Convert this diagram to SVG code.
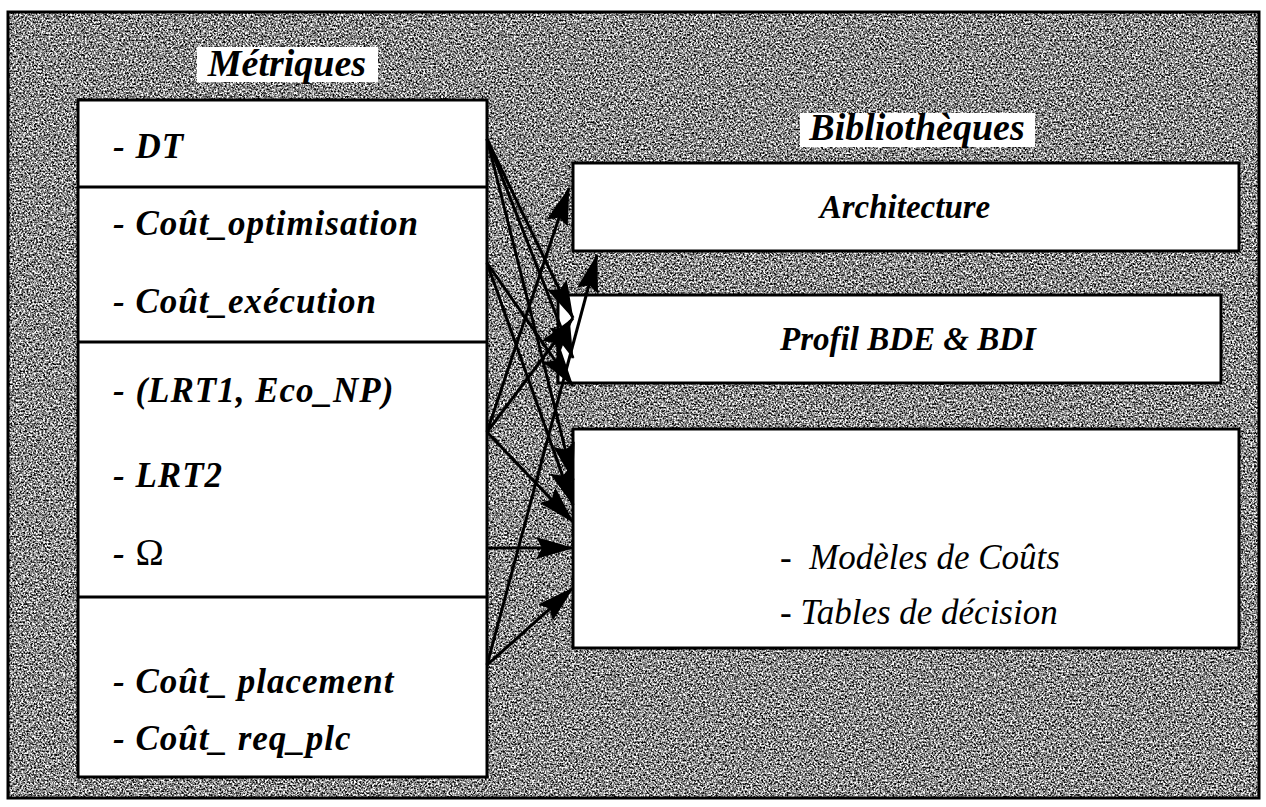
<svg xmlns="http://www.w3.org/2000/svg" width="1266" height="807" viewBox="0 0 1266 807">
  <defs>
    <style>
      .panel { fill: #8e8e8e; }
      .frame { fill: none; stroke: #000; stroke-width: 3; }
      .box { fill: #fff; stroke: #000; stroke-width: 3; }
      .tag { fill: #fff; stroke: none; }
      .div { stroke: #000; stroke-width: 3; }
      .item { font-family: "Liberation Serif", "Times New Roman", serif; font-style: italic; font-weight: bold; font-size: 35px; letter-spacing: 1px; fill: #000; }
      .title { font-family: "Liberation Serif", "Times New Roman", serif; font-style: italic; font-weight: bold; font-size: 38px; fill: #000; }
      .lib { font-family: "Liberation Serif", "Times New Roman", serif; font-style: italic; font-weight: bold; font-size: 33px; fill: #000; }
      .cost { font-family: "Liberation Serif", "Times New Roman", serif; font-style: italic; font-size: 35px; fill: #000; }
      .sym { font-family: "Liberation Serif", "Times New Roman", serif; font-style: normal; font-weight: normal; font-size: 38px; }
      .link { stroke: #000; stroke-width: 3; fill: none; marker-end: url(#head); }
    </style>
    <!-- halftone-like grain for the grey panel -->
    <filter id="grain" x="0" y="0" width="100%" height="100%" color-interpolation-filters="sRGB">
      <feTurbulence type="fractalNoise" baseFrequency="0.55" numOctaves="2" seed="7" result="noise"/>
      <feColorMatrix in="noise" type="matrix" values="1 0 0 0 0  1 0 0 0 0  1 0 0 0 0  0 0 0 0 1" result="grey"/>
      <feComponentTransfer in="grey">
        <feFuncR type="linear" slope="2.4" intercept="-0.66"/>
        <feFuncG type="linear" slope="2.4" intercept="-0.66"/>
        <feFuncB type="linear" slope="2.4" intercept="-0.66"/>
      </feComponentTransfer>
    </filter>
    <marker id="head" viewBox="0 0 38 22" refX="37" refY="11" markerWidth="38" markerHeight="22" markerUnits="userSpaceOnUse" orient="auto">
      <path d="M0,0 L38,11 L0,22 L6,11 Z" fill="#000"/>
    </marker>
  </defs>

  <!-- outer panel -->
  <rect class="panel" x="8" y="12" width="1251" height="786" filter="url(#grain)"/>
  <rect class="frame" x="8" y="12" width="1251" height="786"/>

  <!-- metrics column -->
  <g id="metriques">
    <rect class="tag" x="197" y="47" width="181" height="35"/>
    <text class="title" x="287" y="76" text-anchor="middle">Métriques</text>
    <rect class="box" x="78" y="100" width="409" height="677"/>
    <line class="div" x1="78" y1="187" x2="487" y2="187"/>
    <line class="div" x1="78" y1="342" x2="487" y2="342"/>
    <line class="div" x1="78" y1="597" x2="487" y2="597"/>
    <text class="item" x="113" y="158">- DT</text>
    <text class="item" x="113" y="235">- Coût_optimisation</text>
    <text class="item" x="113" y="313">- Coût_exécution</text>
    <text class="item" x="113" y="402">- (LRT1, Eco_NP)</text>
    <text class="item" x="113" y="487">- LRT2</text>
    <text class="item" x="113" y="565">- <tspan class="sym">Ω</tspan></text>
    <text class="item" x="113" y="693">- Coût_ placement</text>
    <text class="item" x="113" y="750">- Coût_ req_plc</text>
  </g>

  <!-- libraries column -->
  <g id="bibliotheques">
    <rect class="tag" x="800" y="113" width="235" height="34"/>
    <text class="title" x="917" y="140" text-anchor="middle">Bibliothèques</text>
  </g>
  <g id="architecture">
    <rect class="box" x="573" y="163" width="666" height="88"/>
    <text class="lib" x="905" y="218" text-anchor="middle">Architecture</text>
  </g>
  <g id="profil">
    <rect class="box" x="558" y="295" width="663" height="88"/>
    <text class="lib" x="908" y="350" text-anchor="middle">Profil BDE &amp; BDI</text>
  </g>
  <g id="modeles">
    <rect class="box" x="573" y="429" width="666" height="219"/>
    <text class="cost" x="780" y="569" xml:space="preserve">-  Modèles de Coûts</text>
    <text class="cost" x="780" y="624">- Tables de décision</text>
  </g>

  <!-- connectors -->
  <g id="liens">
    <line class="link" x1="487" y1="139" x2="573" y2="318"/>
    <line class="link" x1="487" y1="139" x2="573" y2="358"/>
    <line class="link" x1="487" y1="139" x2="573" y2="480"/>
    <line class="link" x1="487" y1="263" x2="573" y2="386"/>
    <line class="link" x1="487" y1="263" x2="573" y2="505"/>
    <line class="link" x1="487" y1="432" x2="569" y2="188"/>
    <line class="link" x1="487" y1="432" x2="573" y2="318"/>
    <line class="link" x1="487" y1="432" x2="573" y2="522"/>
    <line class="link" x1="487" y1="548" x2="573" y2="548"/>
    <line class="link" x1="487" y1="665" x2="573" y2="588"/>
    <line class="link" x1="487" y1="665" x2="597" y2="255"/>
  </g>
</svg>
